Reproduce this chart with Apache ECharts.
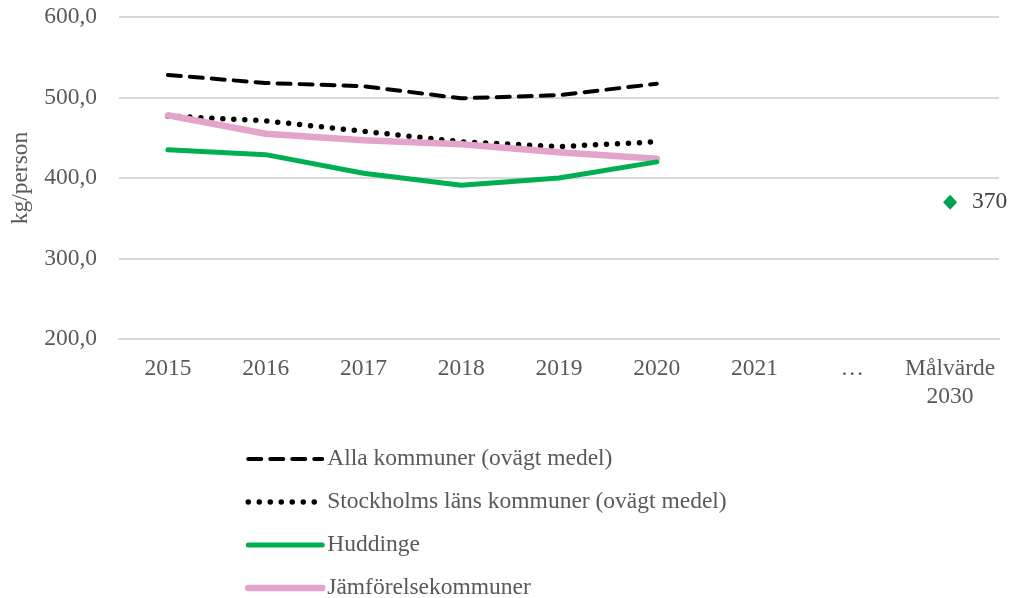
<!DOCTYPE html>
<html>
<head>
<meta charset="utf-8">
<script src="https://cdn.jsdelivr.net/npm/echarts@6/dist/echarts.min.js"></script>
<style>
  html, body { margin: 0; padding: 0; background: #fff; }
  #chart { width: 1011px; height: 598px; }
</style>
</head>
<body>
<div id="chart"></div>
<script>
// kategorier och värden
var years = ['2015', '2016', '2017', '2018', '2019', '2020', '2021', '…', 'Målvärde\n2030'];
var alla = [528, 518, 514, 499, 503, 517];
var stockholm = [477, 471, 458, 445, 439, 445];
var huddinge = [435, 429, 406, 391, 400, 420];
var jamfor = [478, 455, 447, 442, 432, 424];
var malvarde = ['-', '-', '-', '-', '-', '-', '-', '-', 370];
var yTicks = [200, 300, 400, 500, 600];

var myChart = echarts.init(document.getElementById('chart'));
var font = '"Liberation Serif", "Times New Roman", serif';
var grey = '#595959';
var fs = 23.5;

var option = {
    backgroundColor: '#fff',
    animation: false,
    textStyle: { fontFamily: font },
    grid: { left: 119, right: 12, top: 17, bottom: 259, outerBoundsMode: 'none', containLabel: false },
    legend: {
        orient: 'vertical',
        left: 245,
        top: 447,
        height: 200,
        padding: 0,
        itemWidth: 74,
        itemHeight: 22,
        itemGap: 19,
        itemStyle: { opacity: 0 },
        lineStyle: { width: 'inherit' },
        textStyle: { fontFamily: font, fontSize: fs, color: grey, lineHeight: 22 },
        data: ['Alla kommuner (ovägt medel)', 'Stockholms läns kommuner (ovägt medel)', 'Huddinge', 'Jämförelsekommuner']
    },
    xAxis: {
        type: 'category',
        data: years,
        boundaryGap: true,
        axisLine: { lineStyle: { color: '#d9d9d9', width: 2 } },
        axisTick: { show: false },
        axisLabel: { interval: 0, fontFamily: font, fontSize: fs, color: grey, margin: 16, lineHeight: 28 }
    },
    yAxis: {
        type: 'value',
        min: yTicks[0],
        max: yTicks[yTicks.length - 1],
        interval: 100,
        name: 'kg/person',
        nameLocation: 'middle',
        nameGap: 86,
        nameTextStyle: { fontFamily: font, fontSize: fs, color: grey },
        axisLine: { show: false },
        axisTick: { show: false },
        splitLine: { lineStyle: { color: '#d9d9d9', width: 2 } },
        axisLabel: {
            fontFamily: font, fontSize: fs, color: grey, margin: 22,
            formatter: function (v) { return v.toFixed(1).replace('.', ','); }
        }
    },
    series: [
        {
            name: 'Alla kommuner (ovägt medel)',
            type: 'line',
            data: alla,
            symbol: 'none',
            itemStyle: { color: '#000' },
            lineStyle: { color: '#000', width: 4, type: [13, 9], cap: 'round' }
        },
        {
            name: 'Stockholms läns kommuner (ovägt medel)',
            type: 'line',
            data: stockholm,
            symbol: 'none',
            itemStyle: { color: '#000' },
            lineStyle: { color: '#000', width: 5.5, type: [0, 11], cap: 'round' }
        },
        {
            name: 'Jämförelsekommuner',
            type: 'line',
            data: jamfor,
            symbol: 'none',
            itemStyle: { color: '#e3a4cc' },
            lineStyle: { color: '#e3a4cc', width: 6.5, cap: 'round' }
        },
        {
            name: 'Huddinge',
            type: 'line',
            data: huddinge,
            symbol: 'none',
            itemStyle: { color: '#00b050' },
            lineStyle: { color: '#00b050', width: 5, cap: 'round' }
        },
        {
            name: 'Målvärde',
            type: 'scatter',
            data: malvarde,
            symbol: 'diamond',
            symbolSize: [14, 15],
            itemStyle: { color: '#00a050', opacity: 1 },
            label: {
                show: true, position: 'right', distance: 15,
                fontFamily: font, fontSize: fs, color: '#404040'
            }
        }
    ]
};

myChart.setOption(option);
</script>
</body>
</html>
